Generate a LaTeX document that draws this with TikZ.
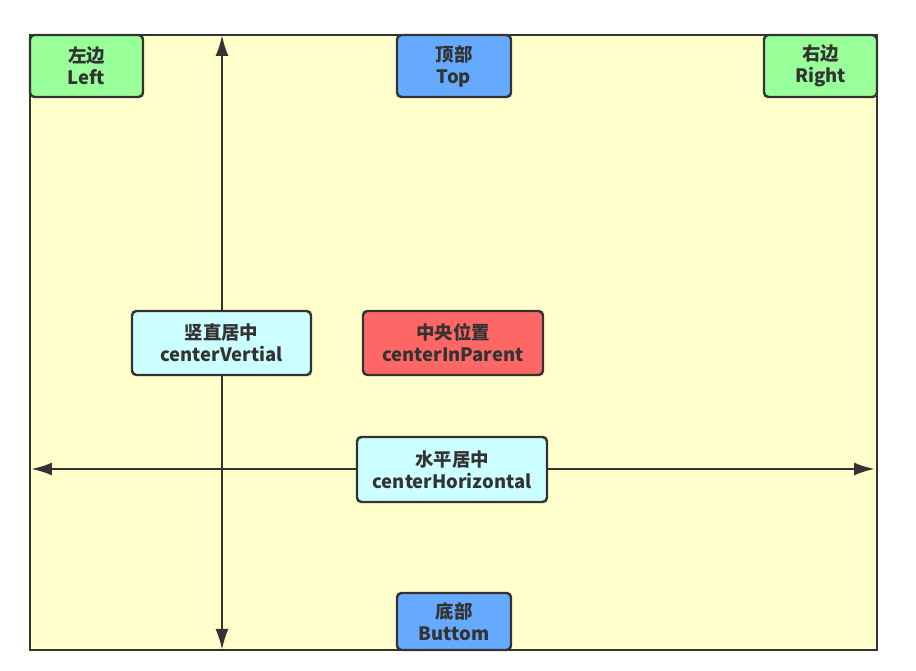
\documentclass[tikz,border=0pt]{standalone}
\usepackage{fontspec}
\setmainfont{Noto Sans CJK SC}
\usepackage{xcolor}
\usepackage{tikz}
\usetikzlibrary{arrows.meta, positioning}
\definecolor{paneyellow}{RGB}{255, 255, 204}
\definecolor{edgegreen}{RGB}{153, 255, 153}
\definecolor{edgeblue}{RGB}{102, 170, 255}
\definecolor{centercyan}{RGB}{204, 255, 255}
\definecolor{centerred}{RGB}{255, 102, 102}
\definecolor{inkgray}{RGB}{51, 51, 51}

\tikzset{
    posbox/.style={draw=inkgray, line width=1.4pt, rounded corners=2.5pt, align=center,
        text=inkgray, font=\fontsize{10.5}{12.5}\selectfont\bfseries, inner sep=0pt},
    axis/.style={draw=inkgray, line width=1.4pt, {Latex[length=0.42cm, width=0.26cm]}-{Latex[length=0.42cm, width=0.26cm]}}
}

\begin{document}
\begin{tikzpicture}
        \useasboundingbox (0,0) rectangle (18.32,13.42);

        % Parent Frame
        \draw[inkgray, line width=1.4pt, fill=paneyellow] (0.6,0.42) rectangle (17.54,12.72);

        % Axes
        \coordinate (vtop) at (4.44,12.72);
        \coordinate (vbot) at (4.44,0.42);
        \coordinate (hleft) at (0.62,4.04);
        \coordinate (hright) at (17.5,4.04);
        \draw[axis] (vbot) -- (vtop);
        \draw[axis] (hleft) -- (hright);

        % Edge Positions
        \node[posbox, fill=edgegreen, minimum width=2.26cm, minimum height=1.24cm] (left) at (1.73,12.1) {左边\\Left};
        \node[posbox, fill=edgeblue, minimum width=2.28cm, minimum height=1.24cm] (top) at (9.08,12.1) {顶部\\Top};
        \node[posbox, fill=edgegreen, minimum width=2.26cm, minimum height=1.24cm] (right) at (16.41,12.1) {右边\\Right};
        \node[posbox, fill=edgeblue, minimum width=2.28cm, minimum height=1.14cm] (buttom) at (9.08,0.99) {底部\\Buttom};

        % Center Positions
        \node[posbox, fill=centercyan, minimum width=3.58cm, minimum height=1.28cm] (vertial) at (4.43,6.56) {竖直居中\\centerVertial};
        \node[posbox, fill=centerred, minimum width=3.6cm, minimum height=1.28cm] (inparent) at (9.06,6.56) {中央位置\\centerInParent};
        \node[posbox, fill=centercyan, minimum width=3.8cm, minimum height=1.3cm] (horizontal) at (9.04,4.03) {水平居中\\centerHorizontal};
    \end{tikzpicture}
\end{document}
